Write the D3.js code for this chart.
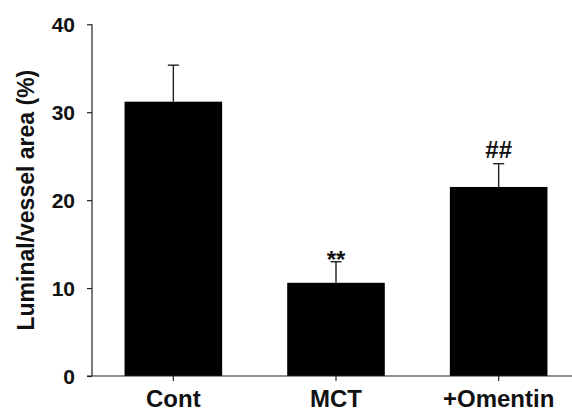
<!DOCTYPE html>
<html>
<head>
<meta charset="utf-8">
<script src="https://cdn.jsdelivr.net/npm/d3@7/dist/d3.min.js"></script>
<style>
  html, body { margin: 0; padding: 0; background: #fff; }
  svg { display: block; }
  text { font-family: "Liberation Sans", Arial, sans-serif; font-weight: bold; fill: #111; }
</style>
</head>
<body>
<svg id="chart" width="572" height="413"></svg>
<script>
// Group names, means and SEM (luminal / vessel area, %)
const categories = ["Cont", "MCT", "+Omentin"];
const means = [31.2, 10.6, 21.5];
const errors = [4.15, 2.4, 2.65];
const marks = ["", "**", "##"];
const yTicks = [0, 10, 20, 30, 40];

const svg = d3.select("#chart");
const plotLeft = 92, plotRight = 580, plotTop = 24.3, plotBottom = 376;

const x = d3.scaleBand()
  .domain(categories)
  .range([plotLeft, plotRight])
  .paddingInner(0.4)
  .paddingOuter(0.2);

const y = d3.scaleLinear().domain([0, 40]).range([plotBottom, plotTop]);

// Bars
svg.append("g").selectAll("rect")
  .data(categories)
  .join("rect")
  .attr("x", d => x(d))
  .attr("y", (d, i) => y(means[i]))
  .attr("width", x.bandwidth())
  .attr("height", (d, i) => y(0) - y(means[i]))
  .attr("fill", "#000");

// Upper error bars
const eb = svg.append("g").attr("stroke", "#222").attr("stroke-width", 1.4);
categories.forEach((c, i) => {
  const cx = x(c) + x.bandwidth() / 2;
  eb.append("line")
    .attr("x1", cx).attr("x2", cx)
    .attr("y1", y(means[i])).attr("y2", y(means[i] + errors[i]));
  eb.append("line")
    .attr("x1", cx - 5.5).attr("x2", cx + 5.5)
    .attr("y1", y(means[i] + errors[i])).attr("y2", y(means[i] + errors[i]));
});

// Significance marks above error bars
svg.append("g").selectAll("text")
  .data(categories)
  .join("text")
  .attr("x", d => x(d) + x.bandwidth() / 2)
  .attr("y", (d, i) => y(means[i] + errors[i]) + (marks[i] === "**" ? 6 : -6))
  .attr("text-anchor", "middle")
  .style("font-size", "24px")
  .text((d, i) => marks[i]);

// Y axis
const yAxis = svg.append("g")
  .attr("transform", `translate(${plotLeft},0)`)
  .call(d3.axisLeft(y).tickValues(yTicks).tickSize(5).tickPadding(12).tickFormat(d3.format("d")));
yAxis.select(".domain").attr("d", `M0,${plotTop}V${plotBottom}`);
yAxis.selectAll("line, path").attr("stroke", "#222").attr("stroke-width", 1.2);
yAxis.selectAll("text")
  .attr("font-family", null).attr("font-size", null)
  .style("font-size", "21px").attr("dy", "0.36em");

// X axis
const xAxis = svg.append("g")
  .attr("transform", `translate(0,${plotBottom})`)
  .call(d3.axisBottom(x).tickSize(5).tickPadding(9));
xAxis.select(".domain").attr("d", `M${plotLeft - 5},0H${plotRight}`);
xAxis.selectAll("line, path").attr("stroke", "#222").attr("stroke-width", 1.2);
xAxis.selectAll("text")
  .attr("font-family", null).attr("font-size", null)
  .style("font-size", "24px").attr("dy", "0.71em");

// Y axis title
svg.append("text")
  .attr("transform", `translate(34,${(plotTop + plotBottom) / 2}) rotate(-90)`)
  .attr("text-anchor", "middle")
  .style("font-size", "23px")
  .text("Luminal/vessel area (%)");
</script>
</body>
</html>
